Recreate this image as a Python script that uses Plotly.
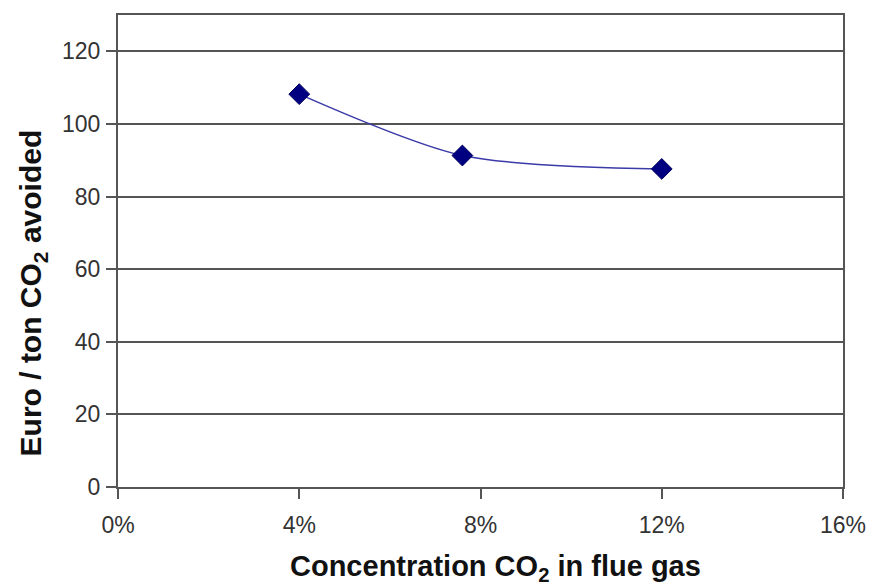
import plotly.graph_objects as go

concentration = [0.04, 0.076, 0.12]
cost = [108.2, 91.3, 87.6]
x_ticks = [0, 0.04, 0.08, 0.12, 0.16]
x_tick_labels = ["0%", "4%", "8%", "12%", "16%"]
y_ticks = [0, 20, 40, 60, 80, 100, 120]
x_title = "<b>Concentration CO<sub>2</sub> in flue gas</b>"
y_title = "<b>Euro / ton CO<sub>2</sub> avoided</b>"

fig = go.Figure()
fig.add_trace(go.Scatter(
    x=concentration, y=cost, mode="lines+markers",
    line=dict(color="#3a3aa8", width=1.5, shape="spline", smoothing=0.8),
    marker=dict(symbol="diamond", size=16, color="#000080",
                line=dict(color="#000060", width=1)),
    showlegend=False,
))

font_family = "Liberation Sans, Arial, sans-serif"
fig.update_layout(
    width=872, height=586,
    margin=dict(l=118, r=29, t=15, b=99, autoexpand=False),
    paper_bgcolor="white", plot_bgcolor="white",
    font=dict(family=font_family, size=23, color="#333333"),
    xaxis=dict(
        range=[0, 0.16], tickvals=x_ticks, ticktext=x_tick_labels,
        showgrid=False, zeroline=False, automargin=False,
        showline=True, linecolor="#555555", linewidth=2, mirror=True,
        ticks="outside", ticklen=10, tickcolor="#555555", tickwidth=2,
        ticklabelstandoff=6,
        tickfont=dict(size=23, color="#333333"),
    ),
    yaxis=dict(
        range=[0, 130], tickvals=y_ticks,
        showgrid=True, gridcolor="#555555", gridwidth=2,
        zeroline=False, automargin=False,
        showline=True, linecolor="#555555", linewidth=2, mirror=True,
        ticks="outside", ticklen=10, tickcolor="#555555", tickwidth=2,
        ticklabelstandoff=1,
        tickfont=dict(size=23, color="#333333"),
    ),
    annotations=[
        dict(text=x_title, xref="paper", yref="paper", x=0.521, y=-0.172,
             xanchor="center", yanchor="middle", showarrow=False,
             font=dict(size=29, color="#111111")),
        dict(text=y_title, xref="paper", yref="paper", x=-0.118, y=0.411,
             xanchor="center", yanchor="middle", showarrow=False, textangle=-90,
             font=dict(size=30, color="#111111")),
    ],
)

fig.write_html("out.html")
